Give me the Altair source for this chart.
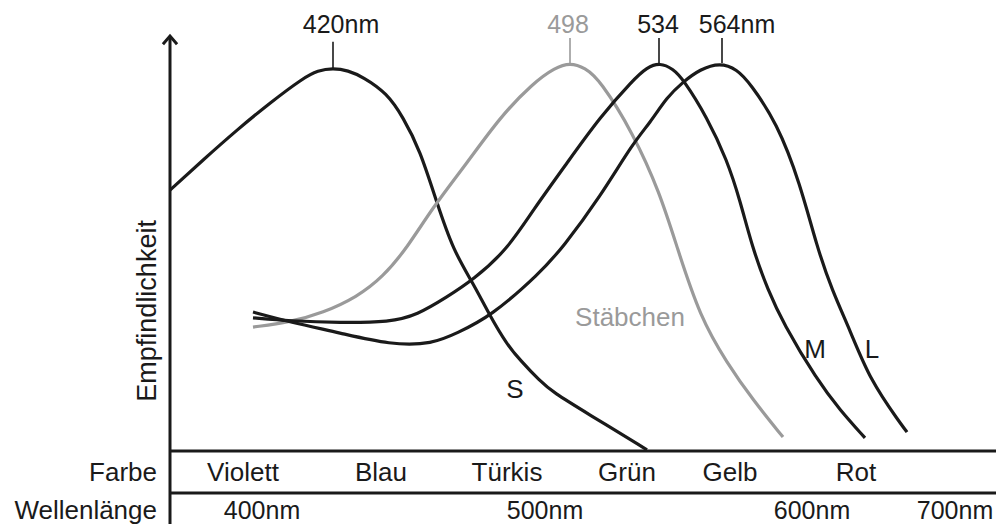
import altair as alt
import pandas as pd

# ---- curve data: position along the (schematic) wavelength axis, relative sensitivity (% of peak)
S_X = [0, 33, 67, 100, 133, 148, 163, 178, 193, 217, 233, 250, 267, 283, 303, 320, 337, 350, 370, 383, 417, 477]
S_Y = [67.6, 75.4, 83.2, 90.2, 96.6, 98.6, 99.2, 98.6, 96.9, 92.7, 86.5, 78.0, 64.2, 52.1, 43.5, 35.0, 27.6, 23.6, 18.1, 15.2, 9.8, 0.3]

ROD_X = [83, 120, 153, 187, 213, 237, 263, 297, 330, 363, 385, 400, 415, 430, 463, 490, 507, 530, 557, 583, 613]
ROD_Y = [32.1, 33.4, 35.8, 39.9, 45.1, 52.6, 63.2, 74.6, 86.5, 95.3, 99.3, 100.6, 99.3, 96.1, 82.4, 66.8, 52.8, 34.7, 22.8, 13.2, 3.6]

M_X = [83, 120, 170, 220, 247, 277, 303, 337, 363, 397, 430, 463, 477, 490, 503, 513, 537, 557, 570, 583, 598, 613, 647, 670, 695]
M_Y = [34.5, 33.7, 33.2, 33.4, 35.2, 39.9, 44.3, 52.1, 62.4, 74.6, 86.5, 96.1, 99.4, 100.6, 99.0, 96.4, 86.5, 75.4, 65.0, 52.1, 41.7, 33.2, 18.4, 10.6, 3.4]

L_X = [83, 120, 170, 220, 263, 287, 320, 370, 393, 430, 463, 480, 497, 513, 530, 550, 567, 580, 607, 630, 647, 662, 680, 700, 730, 737]
L_Y = [36.0, 33.4, 30.6, 27.5, 27.7, 30.6, 34.7, 46.1, 52.8, 65.8, 79.8, 85.0, 91.7, 95.6, 98.9, 100.6, 98.9, 95.3, 85.0, 69.4, 52.8, 41.7, 31.3, 18.4, 7.3, 4.9]

# ---- labels
PEAK_LABELS = ["420nm", "498", "534", "564nm"]
PEAK_LABEL_X = [171, 398, 488, 567]
PEAK_X = [163, 400, 489, 552]
PEAK_TOP = [98.7, 100.5, 100.5, 100.5]
PEAK_KIND = ["cone", "rod", "cone", "cone"]

COLOR_NAMES = ["Violett", "Blau", "Türkis", "Grün", "Gelb", "Rot"]
COLOR_X = [73, 211, 337, 457, 560, 686]
WAVE_LABELS = ["400nm", "500nm", "600nm", "700nm"]
WAVE_X = [92, 375, 642, 785]

CURVE_LABELS = ["S", "Stäbchen", "M", "L"]
CURVE_LABEL_X = [345, 460, 645, 702]
CURVE_LABEL_Y = [15.8, 34.5, 26.2, 26.2]
CURVE_LABEL_KIND = ["cone", "rod", "cone", "cone"]

# ---- layout constants (data units)
X_DOMAIN = [-162, 826]
Y_DOMAIN = [-18.91, 114.77]
ROW1_Y = -5.7
ROW2_Y = -15.6
SEP_Y = -10.88
AXIS_TOP = 107.5
AXIS_RIGHT = 835
PEAK_TICK_TOP = [106.0, 107.0, 107.0, 107.0]
PEAK_LABEL_Y = 110.4

BLACK = "#1a1a1a"
GREY = "#9a9a9a"
FONT = "Liberation Sans"
FS_NUM = 25
FS_WORD = 26

xs = alt.Scale(domain=X_DOMAIN, nice=False, zero=False)
ys = alt.Scale(domain=Y_DOMAIN, nice=False, zero=False)
cs = alt.Scale(domain=["cone", "rod"], range=[BLACK, GREY])

rows = []
for name, kind, X, Y in [("S", "cone", S_X, S_Y), ("Stäbchen", "rod", ROD_X, ROD_Y),
                          ("M", "cone", M_X, M_Y), ("L", "cone", L_X, L_Y)]:
    for x, y in zip(X, Y):
        rows.append({"curve": name, "kind": kind, "pos": x, "sens": y})
curves_df = pd.DataFrame(rows)

curves = alt.Chart(curves_df).mark_line(interpolate="basis", strokeWidth=3.2, strokeCap="butt").encode(
    x=alt.X("pos:Q", scale=xs, axis=None),
    y=alt.Y("sens:Q", scale=ys, axis=None),
    color=alt.Color("kind:N", scale=cs, legend=None),
    detail="curve:N",
)

axes_df = pd.DataFrame({
    "x": [0, 0, 0], "x2": [0, AXIS_RIGHT, AXIS_RIGHT],
    "y": [Y_DOMAIN[0], 0, SEP_Y], "y2": [AXIS_TOP, 0, SEP_Y],
})
axes = alt.Chart(axes_df).mark_rule(strokeWidth=3, color=BLACK).encode(
    x=alt.X("x:Q", scale=xs, axis=None), x2="x2:Q",
    y=alt.Y("y:Q", scale=ys, axis=None), y2="y2:Q",
)

arrow = alt.Chart(pd.DataFrame({"x": [0], "y": [AXIS_TOP]})).mark_point(
    shape="M -1 1.15 L 0 0 L 1 1.15", size=200, filled=False, strokeWidth=3, color=BLACK, opacity=1
).encode(x=alt.X("x:Q", scale=xs, axis=None), y=alt.Y("y:Q", scale=ys, axis=None))

ticks_df = pd.DataFrame({"x": PEAK_X, "y": PEAK_TOP, "y2": PEAK_TICK_TOP, "kind": PEAK_KIND})
ticks = alt.Chart(ticks_df).mark_rule(strokeWidth=1.6).encode(
    x=alt.X("x:Q", scale=xs, axis=None),
    y=alt.Y("y:Q", scale=ys, axis=None), y2="y2:Q",
    color=alt.Color("kind:N", scale=cs, legend=None),
)

peak_df = pd.DataFrame({"t": PEAK_LABELS, "x": PEAK_LABEL_X, "y": [PEAK_LABEL_Y] * 4, "kind": PEAK_KIND})
peak_text = alt.Chart(peak_df).mark_text(font=FONT, fontSize=FS_NUM, baseline="middle", align="center").encode(
    x=alt.X("x:Q", scale=xs, axis=None), y=alt.Y("y:Q", scale=ys, axis=None), text="t:N",
    color=alt.Color("kind:N", scale=cs, legend=None),
)

cl_df = pd.DataFrame({"t": CURVE_LABELS, "x": CURVE_LABEL_X, "y": CURVE_LABEL_Y, "kind": CURVE_LABEL_KIND})
curve_text = alt.Chart(cl_df).mark_text(font=FONT, fontSize=FS_WORD, baseline="middle", align="center").encode(
    x=alt.X("x:Q", scale=xs, axis=None), y=alt.Y("y:Q", scale=ys, axis=None), text="t:N",
    color=alt.Color("kind:N", scale=cs, legend=None),
)

color_df = pd.DataFrame({"t": COLOR_NAMES, "x": COLOR_X, "y": [ROW1_Y] * len(COLOR_NAMES)})
color_text = alt.Chart(color_df).mark_text(
    font=FONT, fontSize=FS_WORD, baseline="middle", align="center", color=BLACK
).encode(x=alt.X("x:Q", scale=xs, axis=None), y=alt.Y("y:Q", scale=ys, axis=None), text="t:N")

wave_df = pd.DataFrame({"t": WAVE_LABELS, "x": WAVE_X, "y": [ROW2_Y] * len(WAVE_LABELS)})
wave_text = alt.Chart(wave_df).mark_text(
    font=FONT, fontSize=FS_NUM, baseline="middle", align="center", color=BLACK
).encode(x=alt.X("x:Q", scale=xs, axis=None), y=alt.Y("y:Q", scale=ys, axis=None), text="t:N")

side_df = pd.DataFrame({"t": ["Farbe", "Wellenlänge"], "x": [-13, -13], "y": [ROW1_Y, ROW2_Y]})
side_text = alt.Chart(side_df).mark_text(
    font=FONT, fontSize=FS_WORD, baseline="middle", align="right", color=BLACK
).encode(x=alt.X("x:Q", scale=xs, axis=None), y=alt.Y("y:Q", scale=ys, axis=None), text="t:N")

ytitle = alt.Chart(pd.DataFrame({"t": ["Empfindlichkeit"], "x": [-22], "y": [36.3]})).mark_text(
    font=FONT, fontSize=27, baseline="middle", align="center", angle=270, color=BLACK
).encode(x=alt.X("x:Q", scale=xs, axis=None), y=alt.Y("y:Q", scale=ys, axis=None), text="t:N")

chart = alt.layer(curves, axes, arrow, ticks, peak_text, curve_text, color_text, wave_text,
                  side_text, ytitle).properties(
    width=988, height=516, padding=0, autosize=alt.AutoSizeParams(type="none"), background="white"
).configure_view(stroke=None)

chart.save("out.html", embed_options={"renderer": "svg", "actions": False})
